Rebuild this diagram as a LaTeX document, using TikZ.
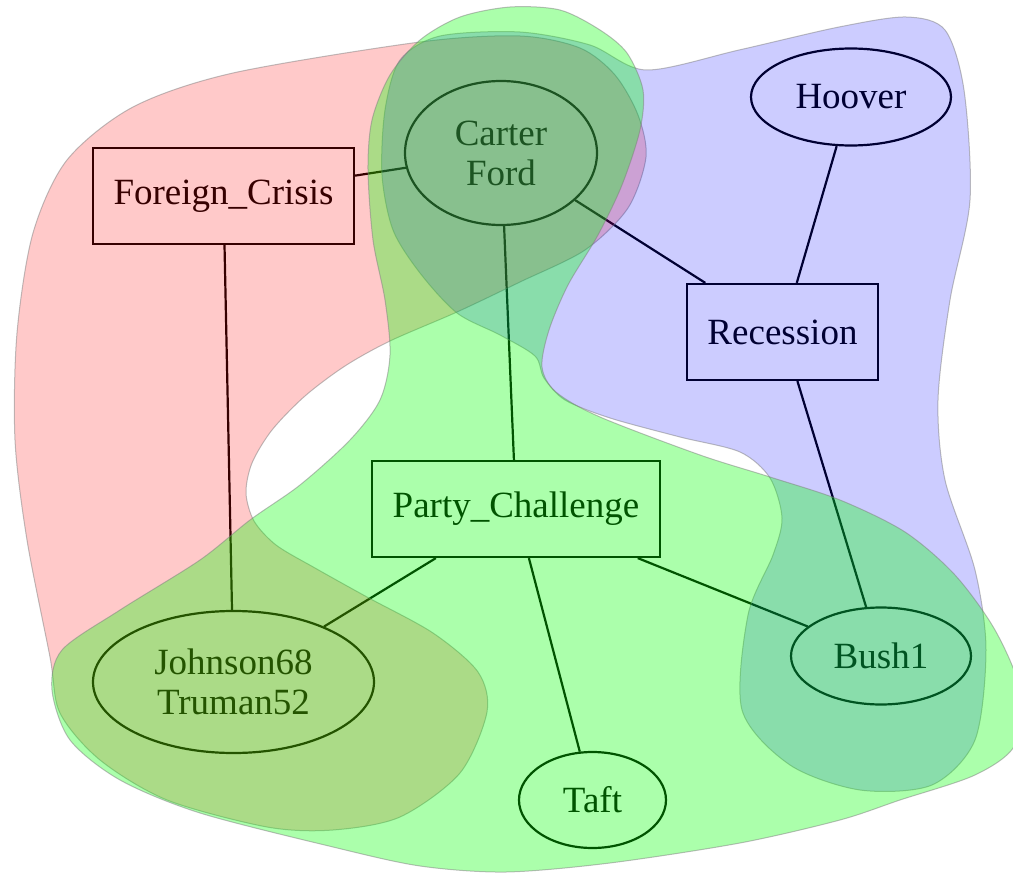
\documentclass[tikz,border=0pt]{standalone}
\usepackage{fontspec}
\setmainfont{Liberation Serif}
\usetikzlibrary{shapes.geometric}
\definecolor{setred}{RGB}{255,0,0}
\definecolor{setgreen}{RGB}{0,255,0}
\definecolor{setblue}{RGB}{0,0,255}
\begin{document}
\begin{tikzpicture}[x=1pt,y=-1pt,
  label/.style={font=\fontsize{37}{40}\selectfont, align=center, inner sep=0pt, line width=2.2pt, draw=black},
  ell/.style={label, ellipse},
  box/.style={label, rectangle},
  link/.style={line width=2.2pt, draw=black},
  blob/.style={draw=gray, draw opacity=0.5, line width=1pt},
  redset/.style={blob, fill=setred, fill opacity=0.21},
  greenset/.style={blob, fill=setgreen, fill opacity=0.33},
  blueset/.style={blob, fill=setblue, fill opacity=0.2}]
\useasboundingbox (0,0) rectangle (1013,875);

% graph nodes
\node[ell, minimum width=200pt, minimum height=97pt] (hoover) at (851,97) {Hoover};
\node[ell, minimum width=192pt, minimum height=144pt] (carter) at (501,153) {Carter\\Ford};
\node[box, minimum width=261pt, minimum height=96pt] (foreign) at (223.5,196) {Foreign\_Crisis};
\node[box, minimum width=191pt, minimum height=96pt] (recession) at (782.5,332) {Recession};
\node[box, minimum width=288pt, minimum height=96pt] (party) at (516,509) {Party\_Challenge};
\node[ell, minimum width=281pt, minimum height=142pt] (johnson) at (233.5,682) {Johnson68\\Truman52};
\node[ell, minimum width=180pt, minimum height=97pt] (bush) at (881,656) {Bush1};
\node[ell, minimum width=147pt, minimum height=96pt] (taft) at (592.5,800) {Taft};

% connectors
\draw[link] (foreign) -- (carter);
\draw[link] (foreign) -- (johnson);
\draw[link] (carter) -- (recession);
\draw[link] (hoover) -- (recession);
\draw[link] (carter) -- (party);
\draw[link] (recession) -- (bush);
\draw[link] (party) -- (johnson);
\draw[link] (party) -- (taft);
\draw[link] (party) -- (bush);

% translucent set regions laid over the graph
\begin{scope}
\clip (0,0) rectangle (1013,875);
\path[redset] plot[smooth cycle] coordinates {
  (15,440) (17,333) (33,233) (67,160) (133,107) (233,73) (420,42)
  (520,36) (580,48) (615,75) (638,115) (646,157) (628,208) (585,250)
  (520,282) (457,312) (390,341) (345,366) (305,396) (272,430)
  (252,463) (246,493) (254,521) (276,545) (315,568) (367,597)
  (433,633) (478,672) (487,712) (460,773) (400,817) (333,830)
  (267,827) (167,800) (100,760) (60,713) (50,657) (27,540)};
\path[blueset] plot[smooth cycle] coordinates {
  (400,60) (440,36) (520,32) (590,45) (646,70) (739,50) (839,27)
  (906,17) (945,30) (964,90) (970,200) (950,300) (938,400) (945,480)
  (975,570) (986,650) (975,740) (932,785) (860,790) (790,765) (742,710)
  (748,615) (773,555) (782,518) (770,478) (740,452) (680,437) (610,418)
  (565,400) (544,378) (535,356) (500,335) (457,313) (420,273) (393,230)
  (382,175) (385,110)};
\path[greenset] plot[smooth cycle] coordinates {
  (460,17) (510,7) (560,10) (600,30) (627,53) (643,90) (640,130)
  (622,185) (598,235) (568,285) (549,330) (542,367) (556,392) (600,417)
  (700,455) (770,477) (840,500) (905,532) (955,575) (995,630) (1020,690)
  (1015,745) (975,775) (900,800) (840,820) (740,843) (610,863) (506,872)
  (420,866) (333,847) (200,813) (120,780) (70,740) (52,690) (62,650)
  (120,610) (200,560) (250,520) (300,485) (350,440) (380,400) (390,355)
  (385,300) (373,240) (368,170) (372,120) (390,75) (420,40)};
\end{scope}
\end{tikzpicture}
\end{document}
